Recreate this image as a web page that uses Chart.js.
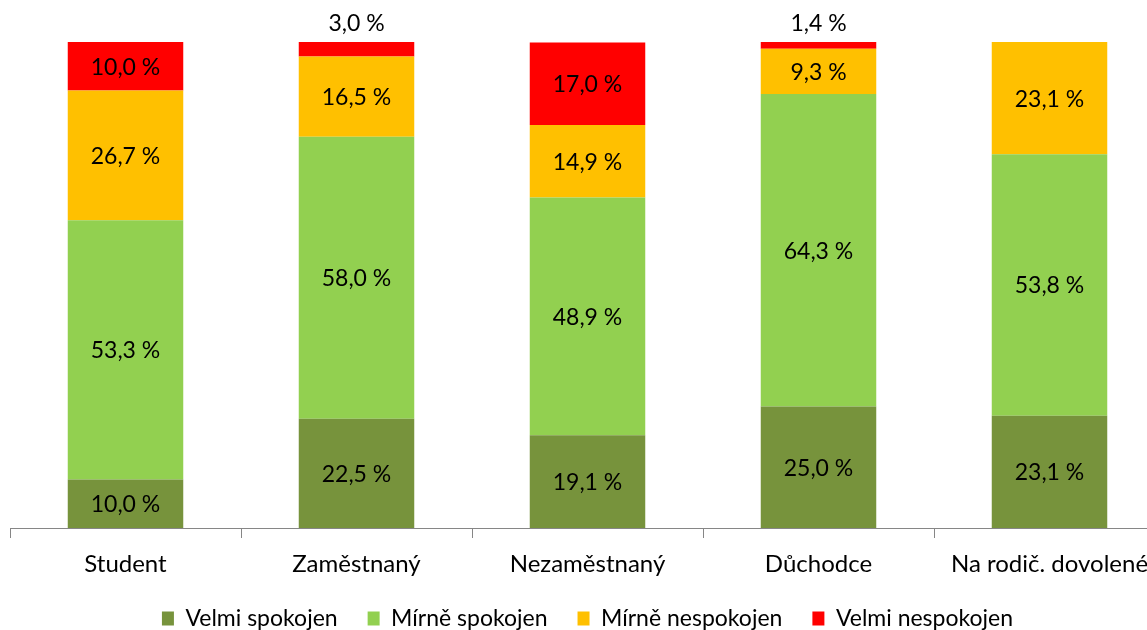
<!DOCTYPE html>
<html>
<head>
<meta charset="utf-8">
<script src="https://cdn.jsdelivr.net/npm/chart.js@4"></script>
<style>
  html, body { margin: 0; padding: 0; overflow: hidden; background: #fff; }
  #wrap { width: 1175px; height: 640px; position: relative; }
</style>
</head>
<body>
<div id="wrap"><canvas id="myChart"></canvas></div>
<script>
const categories = ['Student', 'Zaměstnaný', 'Nezaměstnaný', 'Důchodce', 'Na rodič. dovolené'];
const seriesNames = ['Velmi spokojen', 'Mírně spokojen', 'Mírně nespokojen', 'Velmi nespokojen'];
const velmiSpokojen = [10.0, 22.5, 19.1, 25.0, 23.1];
const mirneSpokojen = [53.3, 58.0, 48.9, 64.3, 53.8];
const mirneNespokojen = [26.7, 16.5, 14.9, 9.3, 23.1];
const velmiNespokojen = [10.0, 3.0, 17.0, 1.4, 0];
const colors = ['#77933C', '#92D050', '#FFC000', '#FF0000'];

const FONT = 'Lato, "Open Sans", sans-serif';

function fmt(v) {
  return v.toFixed(1).replace('.', ',') + ' %';
}

// draws value labels in the middle of each segment, above it when too thin
const valueLabels = {
  id: 'valueLabels',
  afterDatasetsDraw(chart) {
    const ctx = chart.ctx;
    ctx.save();
    ctx.font = '23px ' + FONT;
    ctx.fillStyle = '#000';
    ctx.textAlign = 'center';
    ctx.textBaseline = 'middle';
    chart.data.datasets.forEach((ds, i) => {
      const meta = chart.getDatasetMeta(i);
      meta.data.forEach((el, j) => {
        const v = ds.data[j];
        if (!v) return;
        const h = el.base - el.y;
        if (h < 25) {
          ctx.fillText(fmt(v), el.x, el.y - 18);
        } else {
          ctx.fillText(fmt(v), el.x, (el.y + el.base) / 2 + 1);
        }
      });
    });
    ctx.restore();
  }
};

const seriesData = [velmiSpokojen, mirneSpokojen, mirneNespokojen, velmiNespokojen];

const ctx = document.getElementById('myChart').getContext('2d');
const myChart = new Chart(ctx, {
  type: 'bar',
  data: {
    labels: categories,
    datasets: seriesNames.map((name, i) => ({
      label: name,
      data: seriesData[i],
      backgroundColor: colors[i],
      borderWidth: 0,
      categoryPercentage: 1,
      barPercentage: 0.5
    }))
  },
  options: {
    responsive: true,
    maintainAspectRatio: false,
    animation: false,
    layout: { padding: { top: 42, left: 10, right: 10, bottom: 0 } },
    plugins: {
      title: { display: false },
      tooltip: { enabled: false },
      legend: {
        display: true,
        position: 'bottom',
        labels: {
          font: { size: 23, family: FONT },
          color: '#000',
          boxWidth: 12,
          boxHeight: 14,
          padding: 30
        }
      }
    },
    scales: {
      x: {
        stacked: true,
        offset: true,
        afterFit(scale) { scale.height = 49; },
        grid: {
          display: true,
          drawOnChartArea: false,
          drawTicks: true,
          tickLength: 10,
          color: '#868686',
          offset: true
        },
        border: { display: true, color: '#868686', width: 1 },
        ticks: {
          font: { size: 24, family: FONT },
          color: '#000',
          padding: 12
        }
      },
      y: {
        stacked: true,
        display: false,
        min: 0,
        max: 100
      }
    }
  },
  plugins: [valueLabels]
});
</script>
</body>
</html>
